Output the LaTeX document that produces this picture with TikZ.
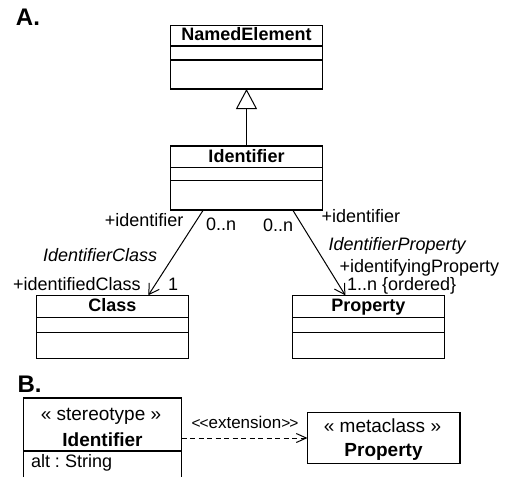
\documentclass[tikz,border=0pt]{standalone}
\usepackage{fontspec}
\setmainfont{Liberation Sans}
\usetikzlibrary{arrows.meta}
\frenchspacing
\begin{document}
\begin{tikzpicture}[x=1pt,y=-1pt,
  txt/.style={font=\fontsize{18}{20}\selectfont, inner sep=0pt, outer sep=0pt},
  txtb/.style={font=\fontsize{19}{21}\selectfont, inner sep=0pt, outer sep=0pt},
  itxt/.style={font=\fontsize{18}{20}\selectfont\itshape, inner sep=0pt, outer sep=0pt},
  clsname/.style={font=\fontsize{18}{20}\selectfont\bfseries, inner sep=0pt, outer sep=0pt, anchor=base},
  panel/.style={font=\fontsize{24}{26}\selectfont\bfseries, inner sep=0pt, outer sep=0pt, anchor=base west},
  clsbox/.style={draw, line width=1.1pt, minimum width=152pt, inner sep=0pt, outer sep=0pt, anchor=north west},
  sep/.style={line width=1.1pt},
  gen/.style={line width=1pt, -{Triangle[open, length=20pt, width=21pt, line width=1pt, fill=white]}},
  assoc/.style={line width=1pt, -{Straight Barb[length=10pt, width=12pt, line width=1pt]}},
  ext/.style={line width=1pt, dash pattern=on 5pt off 3.5pt, -{Straight Barb[length=10pt, width=9pt, line width=1pt]}}
]
\useasboundingbox (0,0) rectangle (509,477);

% ---------- A. ----------
\node[panel] (ta) at (16,25) {A.};

% NamedElement
\node[clsbox, minimum height=63.5pt] (ne) at (170.5,25.5) {};
\draw[sep] ([yshift=-20.5pt]ne.north west) -- ([yshift=-20.5pt]ne.north east);
\draw[sep] ([yshift=-34.5pt]ne.north west) -- ([yshift=-34.5pt]ne.north east);
\node[clsname] (ne-t) at (246.5,40.7) {NamedElement};

% Identifier
\node[clsbox, minimum height=64pt] (id) at (170.5,146) {};
\draw[sep] ([yshift=-21.8pt]id.north west) -- ([yshift=-21.8pt]id.north east);
\draw[sep] ([yshift=-34.8pt]id.north west) -- ([yshift=-34.8pt]id.north east);
\node[clsname] (id-t) at (246.5,162.3) {Identifier};

% Class
\node[clsbox, minimum height=63pt] (cl) at (36.3,295.3) {};
\draw[sep] ([yshift=-22pt]cl.north west) -- ([yshift=-22pt]cl.north east);
\draw[sep] ([yshift=-37.4pt]cl.north west) -- ([yshift=-37.4pt]cl.north east);
\node[clsname] (cl-t) at (112.3,311) {Class};

% Property
\node[clsbox, minimum height=63pt] (pr) at (292.3,295.3) {};
\draw[sep] ([yshift=-22pt]pr.north west) -- ([yshift=-22pt]pr.north east);
\draw[sep] ([yshift=-37.4pt]pr.north west) -- ([yshift=-37.4pt]pr.north east);
\node[clsname] (pr-t) at (368.3,311) {Property};

% generalization
\draw[gen] (id.north) -- (ne.south);

% associations
\draw[assoc] ([xshift=32.8pt]id.south west) -- ([xshift=112pt]cl.north west);
\draw[assoc] ([xshift=122.2pt]id.south west) -- ([xshift=53pt]pr.north west);

% association end labels
\node[txt, anchor=base east] (l1) at (183.5,226) {+identifier};
\node[txt, anchor=base west] (l2) at (206,230.5) {0..n};
\node[txt, anchor=base west] (l3) at (263,231) {0..n};
\node[txt, anchor=base west] (l4) at (321.5,222.3) {+identifier};
\node[itxt, anchor=base west] (l5) at (43,261.7) {IdentifierClass};
\node[itxt, anchor=base west] (l6) at (328.5,250) {IdentifierProperty};
\node[txt, anchor=base west] (l7) at (339.5,272.5) {+identifyingProperty};
\node[txt, anchor=base west] (l8) at (347,290) {1..n \{ordered\}};
\node[txt, anchor=base west] (l9) at (13,290) {+identifiedClass};
\node[txt, anchor=base west] (l10) at (168,290) {1};

% ---------- B. ----------
\node[panel] (tb) at (17.5,392) {B.};

% stereotype box (open at the lower edge)
\node[minimum width=158pt, minimum height=79pt, inner sep=0pt, outer sep=0pt, anchor=north west] (st) at (23.5,398) {};
\draw[sep] (st.south west) |- (st.north east) -- (st.south east);
\draw[sep] ([yshift=-53pt]st.north west) -- ([yshift=-53pt]st.north east);
\node[txtb, anchor=base] (st-s) at (101,420) {« stereotype »};
\node[txtb, anchor=base, font=\fontsize{19}{21}\selectfont\bfseries] (st-t) at (102.5,446.7) {Identifier};
\node[txt, anchor=base west] (st-a) at (31,467.7) {alt : String};

% metaclass box
\node[clsbox, minimum width=152.5pt, minimum height=51pt] (mc) at (307.5,412.5) {};
\node[txtb, anchor=base] (mc-s) at (382.5,432.3) {« metaclass »};
\node[txtb, anchor=base, font=\fontsize{19}{21}\selectfont\bfseries] (mc-t) at (383.5,456.7) {Property};

% extension
\draw[ext] (st.north east |- mc.west) -- (mc.west);
\node[txt, anchor=base, font=\fontsize{17}{19}\selectfont] (ex) at (245,428.3)
  {{\fontsize{15.5}{17}\selectfont<\kern-1pt<}extension{\fontsize{15.5}{17}\selectfont>\kern-1pt>}};
\end{tikzpicture}
\end{document}
